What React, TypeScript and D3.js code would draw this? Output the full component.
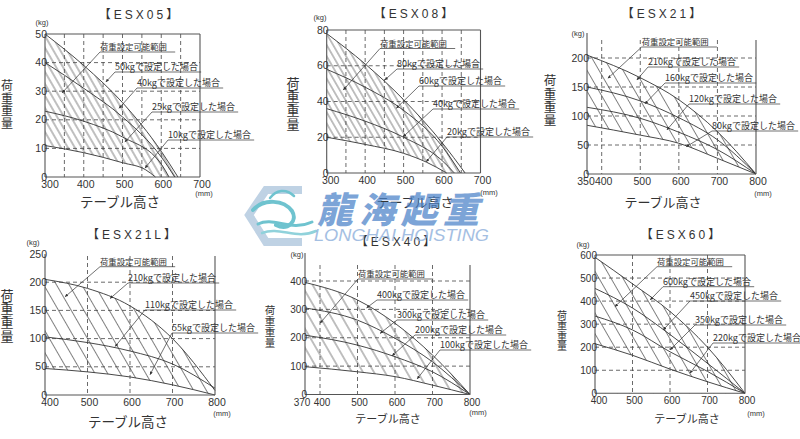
import * as d3 from "d3";

type Pt = [number, number];

// ---------- 【ESX05】 ----------
const ESX05_X_TICKS = [300, 400, 500, 600, 700];
const ESX05_Y_TICKS = [0, 10, 20, 30, 40, 50];
const ESX05_GRID_X = [350, 400, 450, 500, 550, 600, 650];
const ESX05_GRID_Y = [10, 20, 30, 40];
const ESX05_LOADS: Pt[][] = [
  [[300, 50], [400, 39], [500, 26], [600, 9], [643, 0]],
  [[300, 40], [400, 31], [500, 21], [600, 7], [635, 0]],
  [[300, 23], [400, 19.5], [500, 14], [600, 4.5], [620, 0]],
  [[300, 11], [400, 8.5], [500, 5], [560, 2.5], [585, 0]],
];
const ESX05_LABELS = ["荷重設定可能範囲", "50kgで設定した場合", "40kgで設定した場合", "25kgで設定した場合", "10kgで設定した場合"];
const ESX05_TIPS: Pt[] = [[344, 29.4], [457, 33.2], [491, 24], [506, 12.2], [558, 3.1]];

// ---------- 【ESX08】 ----------
const ESX08_X_TICKS = [300, 400, 500, 600, 700];
const ESX08_Y_TICKS = [0, 20, 40, 60, 80];
const ESX08_GRID_X = [350, 400, 450, 500, 550, 600, 650];
const ESX08_GRID_Y = [20, 40, 60];
const ESX08_LOADS: Pt[][] = [
  [[300, 78], [400, 61], [500, 41], [600, 17], [660, 0]],
  [[300, 58], [400, 48], [500, 35], [600, 15], [648, 0]],
  [[300, 36], [400, 29], [500, 20], [600, 7], [632, 0]],
  [[300, 20], [400, 16], [500, 11], [560, 6], [612, 0]],
];
const ESX08_LABELS = ["荷重設定可能範囲", "80kgで設定した場合", "60kgで設定した場合", "40kgで設定した場合", "20kgで設定した場合"];
const ESX08_TIPS: Pt[] = [[343, 46.4], [451, 52], [481, 36.2], [499, 20.3], [559, 6.3]];

// ---------- 【ESX21】 ----------
const ESX21_X_TICKS = [350, 400, 500, 600, 700, 800];
const ESX21_Y_TICKS = [0, 50, 100, 150, 200];
const ESX21_GRID_X = [400, 500, 600, 700];
const ESX21_GRID_Y = [50, 100, 150, 200];
const ESX21_LOADS: Pt[][] = [
  [[350, 205], [500, 166], [600, 128], [700, 73], [800, 0]],
  [[350, 150], [500, 126], [600, 97], [700, 59], [800, 0]],
  [[350, 115], [500, 96], [600, 72], [700, 42], [800, 0]],
  [[350, 84], [500, 67], [600, 53], [700, 27], [800, 0]],
];
const ESX21_LABELS = ["荷重設定可能範囲", "210kgで設定した場合", "160kgで設定した場合", "120kgで設定した場合", "80kgで設定した場合"];
const ESX21_TIPS: Pt[] = [[416, 165], [491, 162], [512, 121], [569, 76], [619, 47]];

// ---------- 【ESX21L】 ----------
const ESX21L_X_TICKS = [400, 500, 600, 700, 800];
const ESX21L_Y_TICKS = [0, 50, 100, 150, 200, 250];
const ESX21L_GRID_X = [500, 600, 700];
const ESX21L_GRID_Y = [50, 100, 150, 200];
const ESX21L_LOADS: Pt[][] = [
  [[400, 205], [500, 189], [600, 158], [700, 100], [800, 8]],
  [[400, 103], [500, 93], [600, 78], [700, 55], [800, 12]],
  [[400, 47], [500, 41], [600, 32], [700, 18], [800, 0]],
];
const ESX21L_LABELS = ["荷重設定可能範囲", "210kgで設定した場合", "110kgで設定した場合", "55kgで設定した場合"];
const ESX21L_TIPS: Pt[] = [[447, 174], [553, 171], [565, 86], [647, 36]];

// ---------- 【ESX40】 ----------
const ESX40_X_TICKS = [370, 400, 500, 600, 700, 800];
const ESX40_Y_TICKS = [0, 100, 200, 300, 400];
const ESX40_GRID_X = [400, 500, 600, 700];
const ESX40_GRID_Y = [100, 200, 300, 400];
const ESX40_LOADS: Pt[][] = [
  [[370, 395], [500, 333], [600, 251], [700, 139], [800, 0]],
  [[370, 305], [500, 262], [600, 198], [700, 115], [800, 0]],
  [[370, 209], [500, 174], [600, 133], [700, 80], [800, 0]],
  [[370, 98], [500, 80], [600, 63], [700, 33], [800, 0]],
];
const ESX40_LABELS = ["荷重設定可能範囲", "400kgで設定した場合", "300kgで設定した場合", "200kgで設定した場合", "100kgで設定した場合"];
const ESX40_TIPS: Pt[] = [[400, 251], [524, 305], [560, 215], [592, 136], [659, 55]];

// ---------- 【ESX60】 ----------
const ESX60_X_TICKS = [400, 500, 600, 700, 800];
const ESX60_Y_TICKS = [0, 100, 200, 300, 400, 500, 600];
const ESX60_GRID_X = [500, 600, 700];
const ESX60_GRID_Y = [100, 200, 300, 400, 500];
const ESX60_LOADS: Pt[][] = [
  [[400, 590], [500, 475], [600, 355], [700, 200], [800, 0]],
  [[400, 455], [500, 370], [600, 255], [700, 130], [800, 0]],
  [[400, 335], [500, 275], [600, 180], [700, 95], [800, 0]],
  [[400, 215], [500, 165], [600, 105], [700, 50], [800, 0]],
];
const ESX60_LABELS = ["荷重設定可能範囲", "600kgで設定した場合", "450kgで設定した場合", "350kgで設定した場合", "220kgで設定した場合"];
const ESX60_TIPS: Pt[] = [[453, 376], [547, 405], [582, 275], [600, 188], [653, 87]];

const X_TITLE = "テーブル高さ";
const Y_TITLE = "荷重重量";

const FONT_NUM = "'Liberation Sans', Arial, sans-serif";
const FONT_JP = "'Noto Sans CJK JP', 'Noto Sans', sans-serif";

interface Layout {
  xDomain: number[];
  xRange: number[];
  y0: number;
  yTop: number;
  boxed: boolean;
  axisTop: number;
  rightTop: number;
  hatch: number;
  tickSize: number;
  firstDx: number;
  title: Pt;
  kg: Pt;
  mm: Pt;
  xTitle: Pt;
  xTitleSize: number;
  yTitle: Pt;
  yTitleSize: number;
  notePos: Pt[];
}

interface PanelDef {
  name: string;
  xTicks: number[];
  yTicks: number[];
  gridX: number[];
  gridY: number[];
  loads: Pt[][];
  labels: string[];
  tips: Pt[];
  L: Layout;
}

const panels: PanelDef[] = [
  {
    name: "【ESX05】", xTicks: ESX05_X_TICKS, yTicks: ESX05_Y_TICKS, gridX: ESX05_GRID_X, gridY: ESX05_GRID_Y,
    loads: ESX05_LOADS, labels: ESX05_LABELS, tips: ESX05_TIPS,
    L: {
      xDomain: [300, 700], xRange: [45, 200], y0: 177, yTop: 34, boxed: true, axisTop: 34, rightTop: 34,
      hatch: 6, tickSize: 10.5, firstDx: 5, title: [140, 19], kg: [42, 25], mm: [204, 196], xTitle: [120, 207], xTitleSize: 13.5,
      yTitle: [7, 86], yTitleSize: 12,
      notePos: [[100, 50], [115, 70], [137, 86], [152, 110], [168, 138]],
    },
  },
  {
    name: "【ESX08】", xTicks: ESX08_X_TICKS, yTicks: ESX08_Y_TICKS, gridX: ESX08_GRID_X, gridY: ESX08_GRID_Y,
    loads: ESX08_LOADS, labels: ESX08_LABELS, tips: ESX08_TIPS,
    L: {
      xDomain: [300, 700], xRange: [326.7, 480.5], y0: 173, yTop: 30, boxed: true, axisTop: 30, rightTop: 30,
      hatch: 5.6, tickSize: 10.5, firstDx: 4, title: [415, 18], kg: [320, 20], mm: [489, 195], xTitle: [415, 207], xTitleSize: 13,
      yTitle: [293, 83], yTitleSize: 13,
      notePos: [[380, 46.5], [397, 67], [419, 84], [433, 107], [447, 135]],
    },
  },
  {
    name: "【ESX21】", xTicks: ESX21_X_TICKS, yTicks: ESX21_Y_TICKS, gridX: ESX21_GRID_X, gridY: ESX21_GRID_Y,
    loads: ESX21_LOADS, labels: ESX21_LABELS, tips: ESX21_TIPS,
    L: {
      xDomain: [350, 400, 800], xRange: [587, 601.7, 756], y0: 174, yTop: 58, boxed: false, axisTop: 33, rightTop: 40,
      hatch: 10.4, tickSize: 10.5, firstDx: -1, title: [663, 18], kg: [578, 36], mm: [763, 196], xTitle: [663, 207], xTitleSize: 13,
      yTitle: [550, 81], yTitleSize: 12.5,
      notePos: [[641.7, 45], [648, 65], [665, 81], [689, 102], [712, 129]],
    },
  },
  {
    name: "【ESX21L】", xTicks: ESX21L_X_TICKS, yTicks: ESX21L_Y_TICKS, gridX: ESX21L_GRID_X, gridY: ESX21L_GRID_Y,
    loads: ESX21L_LOADS, labels: ESX21L_LABELS, tips: ESX21L_TIPS,
    L: {
      xDomain: [400, 800], xRange: [45, 215], y0: 395, yTop: 254, boxed: false, axisTop: 254, rightTop: 256,
      hatch: 11, tickSize: 10.5, firstDx: 5, title: [133, 239], kg: [33, 245], mm: [222, 416], xTitle: [128, 427], xTitleSize: 13.5,
      yTitle: [7, 295], yTitleSize: 13,
      notePos: [[100, 264.7], [128, 281], [145, 308], [172, 331]],
    },
  },
  {
    name: "【ESX40】", xTicks: ESX40_X_TICKS, yTicks: ESX40_Y_TICKS, gridX: ESX40_GRID_X, gridY: ESX40_GRID_Y,
    loads: ESX40_LOADS, labels: ESX40_LABELS, tips: ESX40_TIPS,
    L: {
      xDomain: [370, 400, 800], xRange: [305, 320, 470], y0: 394.5, yTop: 281, boxed: false, axisTop: 253, rightTop: 265,
      hatch: 9.5, tickSize: 10, firstDx: -3, title: [397, 246], kg: [297, 257], mm: [478, 415], xTitle: [388, 423], xTitleSize: 11,
      yTitle: [270, 310], yTitleSize: 10.5,
      notePos: [[358, 277], [377, 298], [397, 318], [415, 333], [440, 348]],
    },
  },
  {
    name: "【ESX60】", xTicks: ESX60_X_TICKS, yTicks: ESX60_Y_TICKS, gridX: ESX60_GRID_X, gridY: ESX60_GRID_Y,
    loads: ESX60_LOADS, labels: ESX60_LABELS, tips: ESX60_TIPS,
    L: {
      xDomain: [400, 800], xRange: [595, 745], y0: 393.3, yTop: 255, boxed: true, axisTop: 255, rightTop: 255,
      hatch: 10.4, tickSize: 10, firstDx: 4, title: [682, 239], kg: [583, 247], mm: [756, 416], xTitle: [687, 423], xTitleSize: 11,
      yTitle: [562, 315], yTitleSize: 10,
      notePos: [[657, 264.7], [663, 284.7], [690, 299], [695, 323], [713, 341]],
    },
  },
];

// rough width of a label (CJK full width, latin ~0.56em)
const textW = (s: string, fs: number) =>
  Array.from(s).reduce((w, c) => w + (c.charCodeAt(0) > 0x2000 ? fs : fs * 0.56), 0);

function Panel({ p, idx }: { p: PanelDef; idx: number }) {
  const L = p.L;
  const yMax = p.yTicks[p.yTicks.length - 1];
  const x = d3.scaleLinear().domain(L.xDomain).range(L.xRange);
  const y = d3.scaleLinear().domain([0, yMax]).range([L.y0, L.yTop]);
  const xL = L.xRange[0];
  const xR = L.xRange[L.xRange.length - 1];
  const gridTop = L.boxed ? L.yTop : L.rightTop;

  const area = d3
    .area<Pt>()
    .x((d) => x(d[0]))
    .y0(y(0))
    .y1((d) => y(d[1]))
    .curve(d3.curveMonotoneX);
  const line = d3
    .line<Pt>()
    .x((d) => x(d[0]))
    .y((d) => y(d[1]))
    .curve(d3.curveMonotoneX);

  const top = p.loads[0];
  const bottom = p.loads[p.loads.length - 1];
  const hid = `hatch-${idx}`;

  return (
    <g>
      <defs>
        <pattern id={hid} patternUnits="userSpaceOnUse" width={L.hatch} height={20} patternTransform="rotate(-30)">
          <line x1={L.hatch / 2} y1={0} x2={L.hatch / 2} y2={20} stroke="#3a3a3a" strokeWidth={0.65} />
        </pattern>
      </defs>

      {/* hatched range between the outer curve and the lowest curve */}
      <path d={area(top) ?? ""} fill={`url(#${hid})`} />
      <path d={area(bottom) ?? ""} fill="#fff" />

      {/* dashed grid */}
      {p.gridX.map((g) => (
        <line key={`gx${g}`} x1={x(g)} x2={x(g)} y1={gridTop} y2={L.y0} stroke="#444" strokeWidth={0.8} strokeDasharray="4 3" />
      ))}
      {p.gridY.map((g) => (
        <line key={`gy${g}`} x1={xL} x2={xR} y1={y(g)} y2={y(g)} stroke="#444" strokeWidth={0.8} strokeDasharray="4 3" />
      ))}

      {/* load curves */}
      {p.loads.map((c, i) => (
        <path key={`c${i}`} d={line(c) ?? ""} fill="none" stroke="#333" strokeWidth={0.9} />
      ))}

      {/* frame */}
      <g stroke="#555" strokeWidth={1.1} fill="none">
        <line x1={xL} x2={xL} y1={L.axisTop} y2={L.y0} />
        <line x1={xL} x2={xR} y1={L.y0} y2={L.y0} />
        <line x1={xR} x2={xR} y1={L.rightTop} y2={L.y0} />
        {L.boxed && <line x1={xL} x2={xR} y1={L.yTop} y2={L.yTop} />}
      </g>

      {/* tick labels */}
      {p.yTicks.map((t) => (
        <text key={`yt${t}`} x={xL + 2} y={y(t)} dy="0.35em" textAnchor="end" fontSize={L.tickSize} fontFamily={FONT_NUM} fill="#333">
          {t}
        </text>
      ))}
      {p.xTicks.map((t, i) => (
        <text key={`xt${t}`} x={x(t) + (i === 0 ? L.firstDx : 2)} y={L.y0 + 11} textAnchor="middle" fontSize={L.tickSize} fontFamily={FONT_NUM} fill="#333">
          {t}
        </text>
      ))}
      <text x={L.kg[0]} y={L.kg[1]} textAnchor="middle" fontSize={7.5} fontFamily={FONT_NUM} fill="#333">(kg)</text>
      <text x={L.mm[0]} y={L.mm[1]} textAnchor="middle" fontSize={7.5} fontFamily={FONT_NUM} fill="#333">(mm)</text>

      {/* annotations */}
      {p.labels.map((s, i) => {
        const fs = i === 0 ? 8.4 : 9;
        const [tx, ty] = L.notePos[i];
        const uy = ty + 2;
        const w = textW(s, fs) + (i === 0 ? 8 : 3);
        const [mx, my] = p.tips[i];
        return (
          <g key={`n${i}`}>
            <text x={tx} y={ty} fontSize={fs} fontFamily={FONT_JP} fill="#333">{s}</text>
            <line x1={tx} x2={tx + w} y1={uy} y2={uy} stroke="#333" strokeWidth={0.7} />
            <line x1={tx} y1={uy} x2={x(mx)} y2={y(my)} stroke="#333" strokeWidth={0.7} markerEnd="url(#tip)" />
          </g>
        );
      })}

      {/* titles */}
      <text x={L.title[0]} y={L.title[1]} textAnchor="middle" fontSize={12} letterSpacing={3} fontFamily={`${FONT_NUM.split(",")[0]}, ${FONT_JP}`} fill="#333">
        {p.name}
      </text>
      <text x={L.xTitle[0]} y={L.xTitle[1]} textAnchor="middle" fontSize={L.xTitleSize} fontFamily={FONT_JP} fill="#333">
        {X_TITLE}
      </text>
      {Array.from(Y_TITLE).map((c, i) => (
        <text key={`yc${i}`} x={L.yTitle[0]} y={L.yTitle[1] + i * L.yTitleSize * 1.05} dy="0.35em" textAnchor="middle" fontSize={L.yTitleSize} fontFamily={FONT_JP} fill="#333">
          {c}
        </text>
      ))}
    </g>
  );
}

function Watermark() {
  return (
    <g>
      <g opacity={0.75} fill="none" strokeLinecap="round">
        <path d="M302,190 L266,190 L249,215 L266,242 L302,242" stroke="#aac3dc" strokeWidth={8} strokeLinejoin="miter" strokeLinecap="butt" />
        <path d="M253,210 C264,198 284,200 292,211 C298,221 288,231 276,225" stroke="#3fb0c0" strokeWidth={4} />
        <path d="M258,224 C274,216 290,232 312,222" stroke="#3fb0c0" strokeWidth={3} />
        <path d="M262,233 C280,226 296,240 316,231" stroke="#6cc3cf" strokeWidth={2.5} />
        <path d="M270,198 C276,190 286,188 294,196" stroke="#3fb0c0" strokeWidth={2.5} />
      </g>
      <text x={317} y={223} fontSize={36} fontStyle="italic" fontWeight={900} letterSpacing={6} fontFamily="'Noto Sans CJK TC', 'Noto Sans CJK SC', sans-serif" fill="#4a82c8" opacity={0.72}>
        龍海起重
      </text>
      <text x={314} y={241} fontSize={17} fontStyle="italic" textLength={175} lengthAdjust="spacingAndGlyphs" fontFamily={FONT_NUM} fill="#8eb0dc" opacity={0.8}>
        LONGHAI HOISTING
      </text>
    </g>
  );
}

export default function App() {
  return (
    <svg width={800} height={439} style={{ position: "absolute", left: 0, top: 0, background: "#fff" }}>
      <defs>
        <marker id="tip" viewBox="0 0 6 6" refX={6} refY={3} markerWidth={4.5} markerHeight={4.5} orient="auto">
          <path d="M0,0L6,3L0,6z" fill="#333" />
        </marker>
      </defs>
      <rect width={800} height={439} fill="#fff" />
      {panels.map((p, i) => (
        <Panel key={p.name} p={p} idx={i} />
      ))}
      <Watermark />
    </svg>
  );
}
